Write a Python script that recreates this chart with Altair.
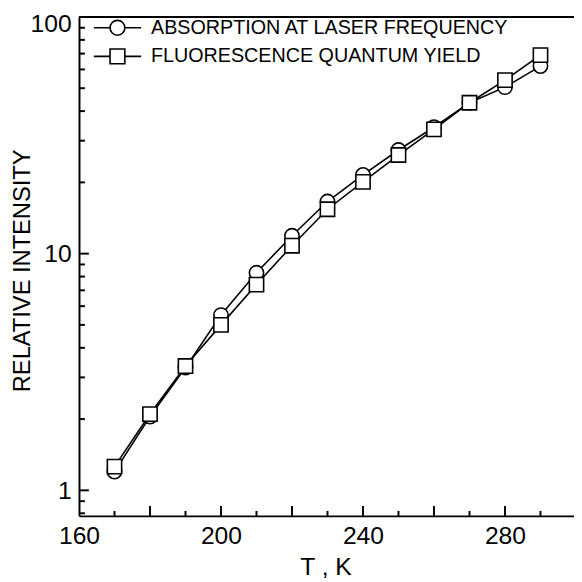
import altair as alt
import pandas as pd

temps = [170, 180, 190, 200, 210, 220, 230, 240, 250, 260, 270, 280, 290]
absorption = [1.2, 2.05, 3.3, 5.5, 8.3, 11.9, 16.6, 21.5, 27.4, 34.2, 43.4, 50.5, 62.0]
fluorescence = [1.26, 2.1, 3.35, 5.0, 7.4, 10.8, 15.4, 20.1, 26.1, 33.5, 43.4, 54.1, 69.0]
series_names = ["ABSORPTION AT LASER FREQUENCY", "FLUORESCENCE QUANTUM YIELD"]

x_label_values = [160, 200, 240, 280]
x_major_ticks = [180, 200, 220, 240, 260, 280]
x_minor_ticks = [170, 190, 210, 230, 250, 270, 290]
y_label_values = [1, 10, 100]
y_major_ticks = [1, 10]
y_minor_ticks = [0.8, 0.9, 2, 3, 4, 5, 6, 7, 8, 9, 20, 30, 40, 50, 60, 70, 80, 90]

rows = []
for i, t in enumerate(temps):
    rows.append({"T": t, "value": absorption[i], "series": series_names[0], "k": 0})
for i, t in enumerate(temps):
    rows.append({"T": t, "value": fluorescence[i], "series": series_names[1], "k": 1})
df = pd.DataFrame(rows)

FONT = "Liberation Sans"
W, H = 502, 506
xs = alt.Scale(domain=[160, 160 + W / 3.6], nice=False, zero=False)
ys = alt.Scale(type="log", domain=[0.78, 100], nice=False)

x_axis = alt.Axis(
    values=x_label_values, orient="bottom", ticks=False, tickSize=0,
    labelOverlap=False, labelPadding=8, labelFontSize=25, labelFont=FONT,
    labelColor="black", labelFlush=False,
    domain=True, domainColor="black", domainWidth=2, grid=False,
    title="T ,  K", titleFont=FONT, titleFontSize=25, titleFontWeight="normal",
    titleColor="black", titleX=250, titleY=59, titleBaseline="alphabetic", titleAlign="center")
y_axis = alt.Axis(
    values=y_label_values, orient="left", ticks=False, tickSize=0,
    labelOverlap=False, labelPadding=8, labelFontSize=25, labelFont=FONT, labelColor="black",
    labelFlush=True, labelFlushOffset=5,
    domain=True, domainColor="black", domainWidth=2, grid=False, format="~g",
    title="RELATIVE INTENSITY", titleFont=FONT, titleFontSize=24, titleFontWeight="normal",
    titleColor="black", titleX=-50, titleY=257, titleAngle=270,
    titleBaseline="alphabetic", titleAlign="center")

X = alt.X("T:Q", scale=xs, axis=x_axis)
Y = alt.Y("value:Q", scale=ys, axis=y_axis)

lines = alt.Chart(df).mark_line(color="black", strokeWidth=1.6).encode(
    x=X, y=Y, detail="series:N", order="T:Q")

points = alt.Chart(df).mark_point(filled=True, fill="white", stroke="black",
                                   strokeWidth=1.6, size=210, opacity=1).encode(
    x=X, y=Y,
    shape=alt.Shape("series:N", scale=alt.Scale(domain=series_names, range=["circle", "square"]),
                    legend=None),
    order="k:Q")

circ_path = "M-3.2,0H-1M1,0H3.2M-1,0A1,1,0,1,0,1,0A1,1,0,1,0,-1,0Z"
sq_path = "M-3.2,0H-1M1,0H3.2M-1,-1H1V1H-1Z"

legend_layer = alt.Chart(df).mark_point(filled=False, stroke="black", strokeWidth=1.6, size=0).encode(
    x=X, y=Y,
    shape=alt.Shape("series:N",
                    scale=alt.Scale(domain=series_names, range=[circ_path, sq_path]),
                    legend=alt.Legend(title=None, orient="none", legendX=29, legendY=1,
                                      symbolSize=225, symbolStrokeWidth=1.6,
                                      symbolFillColor="white", symbolStrokeColor="black",
                                      symbolOpacity=1, labelFont=FONT, labelFontSize=20,
                                      labelColor="black", labelOffset=24, rowPadding=7,
                                      padding=0, labelLimit=500)))

top_line = alt.Chart(df).mark_rule(color="black", strokeWidth=2).encode(
    x=alt.value(0), x2=alt.value(W), y=alt.value(0))


def x_tick_layer(values, length):
    d = pd.DataFrame({"T": values})
    return alt.Chart(d).mark_rule(color="black", strokeWidth=2).encode(
        x=X, y=alt.value(H), y2=alt.value(H - length))


def y_tick_layer(values, length):
    d = pd.DataFrame({"value": values})
    return alt.Chart(d).mark_rule(color="black", strokeWidth=2).encode(
        y=Y, x=alt.value(0), x2=alt.value(length))


chart = alt.layer(
    lines, top_line,
    x_tick_layer(x_major_ticks, 10), x_tick_layer(x_minor_ticks, 5),
    y_tick_layer(y_major_ticks, 10), y_tick_layer(y_minor_ticks, 6),
    legend_layer, points,
).resolve_scale(shape="independent").properties(
    width=W, height=H,
    padding={"left": 72, "top": 5, "right": 0, "bottom": 63},
    autosize=alt.AutoSizeParams(type="none"),
    background="white",
).configure_view(strokeOpacity=0)

chart.save("out.html", embed_options={"renderer": "svg", "actions": False})
